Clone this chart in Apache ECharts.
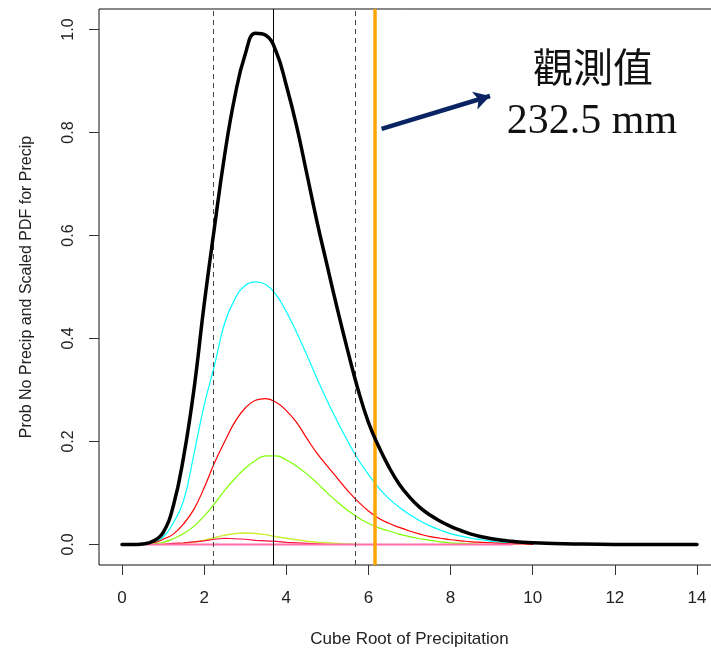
<!DOCTYPE html>
<html>
<head>
<meta charset="utf-8">
<script src="https://cdn.jsdelivr.net/npm/echarts@6/dist/echarts.min.js"></script>
<style>html,body{margin:0;padding:0;background:#fff;}#c{width:711px;height:654px;}</style>
</head>
<body>
<div id="c"></div>
<script>
// x grid (cube root of precipitation)
const xValues = [0,0.25,0.5,0.75,1,1.25,1.5,1.75,2,2.25,2.5,2.75,3,3.25,3.5,3.75,4,4.25,4.5,4.75,5,5.25,5.5,5.75,6,6.25,6.5,6.75,7,7.25,7.5,7.75,8,8.25,8.5,8.75,9,9.25,9.5,9.75,10,11,12,13,14];
// combined (thick black)
const totalPdf = [0,0,0.001,0.006,0.023,0.075,0.17,0.30,0.466,0.615,0.757,0.871,0.952,0.993,0.989,0.958,0.892,0.813,0.72,0.626,0.54,0.455,0.375,0.30,0.237,0.19,0.15,0.117,0.092,0.072,0.057,0.045,0.035,0.027,0.02,0.015,0.011,0.008,0.006,0.004,0.003,0.001,0,0,0];
const cyanPdf = [null,null,0,0.003,0.014,0.042,0.085,0.175,0.27,0.347,0.43,0.477,0.503,0.51,0.505,0.485,0.452,0.412,0.368,0.322,0.278,0.238,0.2,0.165,0.136,0.11,0.089,0.072,0.058,0.046,0.036,0.028,0.021,0.016,0.012,0.009,0.006,0.004,0.003,0.002,0.001,null,null,null,null];
const redPdf = [null,null,0,0.002,0.01,0.02,0.04,0.068,0.11,0.158,0.2,0.238,0.265,0.28,0.283,0.276,0.26,0.237,0.206,0.177,0.152,0.128,0.104,0.083,0.065,0.051,0.041,0.033,0.026,0.02,0.015,0.012,0.009,0.007,0.005,0.004,0.003,0.002,0.001,0.001,0,null,null,null,null];
const greenPdf = [null,null,0,0.001,0.004,0.011,0.021,0.035,0.055,0.079,0.105,0.128,0.148,0.163,0.172,0.172,0.164,0.152,0.137,0.119,0.1,0.082,0.066,0.052,0.041,0.032,0.026,0.02,0.015,0.011,0.008,0.005,0.003,0.002,0.001,0,null,null,null,null,null,null,null,null,null];
const yellowPdf = [null,null,null,null,0,0.001,0.002,0.004,0.008,0.013,0.018,0.021,0.022,0.021,0.019,0.015,0.012,0.009,0.006,0.004,0.003,0.002,0.001,0,null,null,null,null,null,null,null,null,null,null,null,null,null,null,null,null,null,null,null,null,null];
const smallRedPdf = [null,null,null,null,0,0.002,0.003,0.005,0.007,0.01,0.012,0.011,0.01,0.008,0.007,0.006,0.004,0.003,0.002,0.001,0,null,null,null,null,null,null,null,null,null,null,null,null,null,null,null,null,null,null,null,null,null,null,null,null];
const pinkPdf = [null,null,0,0,0,0,0,0,0,0,0,0,0,0,0,0,0,0,0,0,0,0,0,0,0,0,0,0,0,0,0,0,0,0,0,0,0,0,0,null,null,null,null,null,null];
// reference lines
const dashedQuantiles = [2.21, 5.67];
const medianValue = [3.69];
const observedValue = [6.15];
// tick labels
const xTicks = [0,2,4,6,8,10,12,14];
const yTicks = [0,0.2,0.4,0.6,0.8,1.0];
// annotation arrow (data coords)
const arrowFrom = [6.32, 0.807];
const arrowTo = [8.96, 0.871];
const annoLine1 = '觀測值';
const annoLine2 = '232.5 mm';

const pairs = arr => xValues.map((x, i) => [x, arr[i]]);
const font = 'Liberation Sans, Arial, sans-serif';

const chart = echarts.init(document.getElementById('c'), null, {renderer: 'canvas'});
const lineSeries = (name, arr, color, width, smooth, z) => ({
  name, type: 'line', data: pairs(arr), showSymbol: false, symbol: 'none',
  smooth: smooth ? 0.45 : false, connectNulls: false,
  lineStyle: {color, width, cap: 'round', join: 'round'}, itemStyle: {color}, z, silent: true, animation: false
});
chart.setOption({
  animation: false,
  grid: {left: 99, top: 9, width: 621, height: 556, outerBoundsMode: 'none', containLabel: false, show: true, borderColor: '#111', borderWidth: 1, backgroundColor: 'transparent'},
  xAxis: {
    type: 'value', min: -0.56, max: 14.56,
    name: 'Cube Root of Precipitation', nameLocation: 'middle', nameGap: 66,
    nameTextStyle: {fontFamily: font, fontSize: 17, color: '#222'},
    axisLine: {show: false, onZero: false},
    axisTick: {show: true, length: 10, customValues: xTicks, lineStyle: {color: '#333'}},
    axisLabel: {customValues: xTicks, margin: 25, fontFamily: font, fontSize: 17, color: '#222'},
    splitLine: {show: false}
  },
  yAxis: {
    type: 'value', min: -0.04, max: 1.04,
    name: 'Prob No Precip and Scaled PDF for Precip', nameLocation: 'middle', nameGap: 64,
    nameTextStyle: {fontFamily: font, fontSize: 16, color: '#222'},
    axisLine: {show: false, onZero: false},
    axisTick: {show: true, length: 10, customValues: yTicks, lineStyle: {color: '#333'}},
    axisLabel: {customValues: yTicks, rotate: 90, margin: 22, fontFamily: font, fontSize: 16, color: '#222', formatter: v => v.toFixed(1)},
    splitLine: {show: false}
  },
  series: [
    {
      type: 'line', data: [], silent: true, z: 1,
      markLine: {
        silent: true, symbol: ['none', 'none'], label: {show: false}, animation: false,
        data: [
          ...dashedQuantiles.map(v => ({xAxis: v, lineStyle: {type: [5, 4], color: '#444', width: 1}})),
          ...medianValue.map(v => ({xAxis: v, lineStyle: {type: 'solid', color: '#000', width: 1}})),
          ...observedValue.map(v => ({xAxis: v, lineStyle: {type: 'solid', color: '#FFA500', width: 3.5}}))
        ]
      }
    },
    lineSeries('cyan', cyanPdf, '#00FFFF', 1.2, true, 3),
    lineSeries('red', redPdf, '#FF0000', 1.2, true, 3),
    lineSeries('green', greenPdf, '#7FFF00', 1.2, true, 3),
    lineSeries('yellow', yellowPdf, '#CCEE33', 1.5, false, 3),
    lineSeries('smallred', smallRedPdf, '#FF0A3C', 1.2, false, 3),
    lineSeries('pink', pinkPdf, '#FF6EA8', 2, false, 4),
    lineSeries('total', totalPdf, '#000000', 3.5, true, 5),
    {
      type: 'line', data: [], silent: true, z: 6,
      markLine: {
        silent: true, symbol: ['none', 'arrow'], symbolSize: [14, 16], label: {show: false}, animation: false,
        lineStyle: {color: '#0A2463', width: 4.5, type: 'solid'},
        data: [[{coord: arrowFrom}, {coord: arrowTo}]]
      }
    }
  ],
  graphic: [
    {type: 'text', style: {x: 593, y: 67, text: annoLine1, align: 'center', verticalAlign: 'middle', font: '40px "Noto Sans CJK TC", sans-serif', fill: '#111'}},
    {type: 'text', style: {x: 592, y: 122, text: annoLine2, align: 'center', verticalAlign: 'middle', font: '42px "Liberation Serif", "Times New Roman", serif', fill: '#111'}}
  ]
});
</script>
</body>
</html>
